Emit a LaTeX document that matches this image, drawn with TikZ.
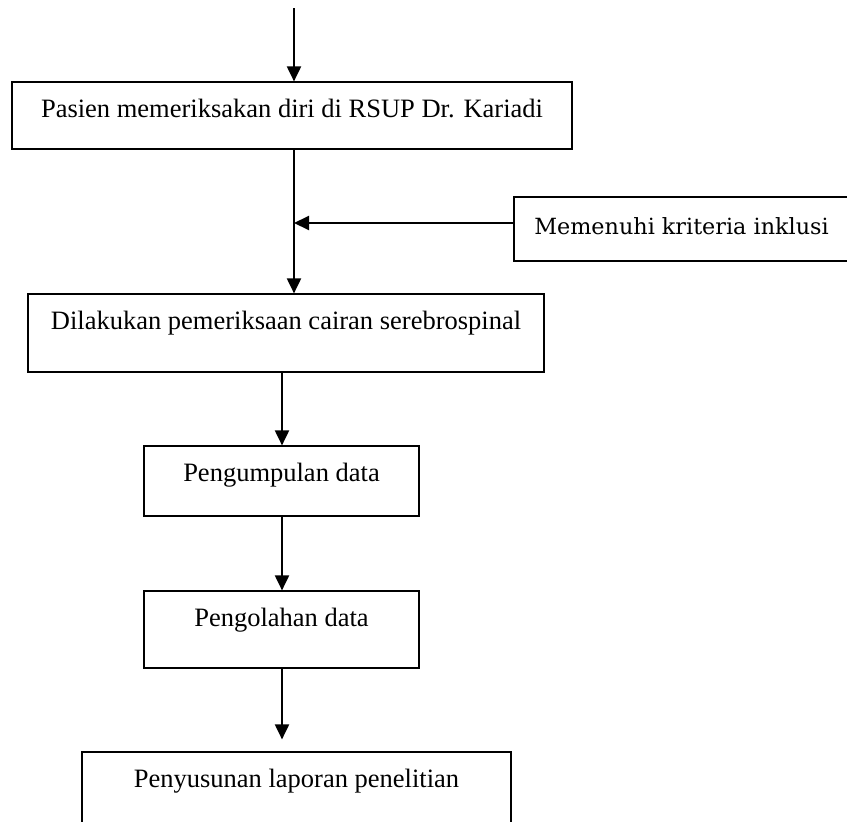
\documentclass[tikz,border=0pt]{standalone}
\usepackage{fontspec}
\setmainfont{Liberation Serif}
\newfontfamily\inkfont{DejaVu Serif}
\usetikzlibrary{arrows.meta}

\begin{document}
\begin{tikzpicture}[x=1pt,y=1pt,
  box/.style={draw,line width=1.2pt,inner sep=0pt,text height=35pt,font=\fontsize{26.5}{30}\selectfont},
  arr/.style={line width=2pt,-{Triangle[length=15pt,width=14pt]}}]
  \clip (0,0) rectangle (847,-822);
  \node[box,minimum width=560pt,text depth=32pt] (pasien) at (292,-115.5) {Pasien memeriksakan diri di RSUP Dr. Kariadi};
  \node[box,minimum width=335pt,text height=37pt,text depth=27pt,font=\inkfont\fontsize{22.3}{26}\selectfont] (inklusi) at (681.5,-229) {Memenuhi kriteria inklusi};
  \node[box,minimum width=516pt,text depth=43pt] (periksa) at (286,-333) {Dilakukan pemeriksaan cairan serebrospinal};
  \node[box,minimum width=275pt,text depth=35pt] (kumpul) at (281.5,-481) {Pengumpulan data};
  \node[box,minimum width=275pt,text depth=42pt] (olah) at (281.5,-629.5) {Pengolahan data};
  \node[box,minimum width=429pt,text depth=45pt] (susun) at (296.5,-792) {Penyusunan laporan penelitian};

  \coordinate (start) at (294,-8);
  \coordinate (down) at (282,0);
  \coordinate (tip) at ([yshift=12pt]susun.north);

  \draw[arr] (start) -- (pasien.north -| start);
  \draw[arr] (pasien.south -| start) -- (periksa.north -| start);
  \draw[arr] ([yshift=6pt]inklusi.west) -- ([yshift=6pt]inklusi.west -| start);
  \draw[arr] (periksa.south -| down) -- (kumpul.north -| down);
  \draw[arr] (kumpul.south -| down) -- (olah.north -| down);
  \draw[arr] (olah.south -| down) -- (tip -| down);
\end{tikzpicture}
\end{document}
